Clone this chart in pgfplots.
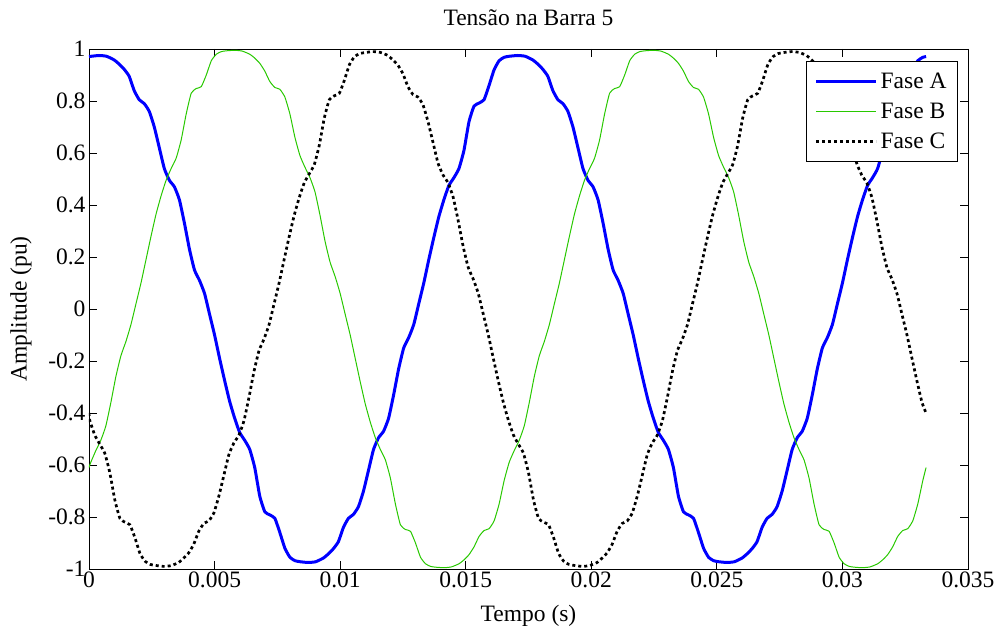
\documentclass[border=0pt]{standalone}
\usepackage{pgfplots}
\pgfplotsset{compat=1.18}
\usepackage{fontspec}
\setmainfont{Liberation Serif}
\newcommand{\fsz}{\fontsize{23.5bp}{28bp}\selectfont}
\definecolor{fgreen}{RGB}{40,200,0}
\begin{document}
\begin{tikzpicture}
\useasboundingbox (-89bp,-62bp) rectangle (910bp,569bp);
\begin{axis}[
  at={(0,0)}, anchor=south west,
  scale only axis, width=879bp, height=520bp,
  xmin=0, xmax=0.035, ymin=-1, ymax=1,
  scaled x ticks=false, scaled y ticks=false,
  xtick={0,0.005,0.01,0.015,0.02,0.025,0.03,0.035},
  xticklabels={0,0.005,0.01,0.015,0.02,0.025,0.03,0.035},
  ytick={-1,-0.8,-0.6,-0.4,-0.2,0,0.2,0.4,0.6,0.8,1},
  yticklabels={-1,-0.8,-0.6,-0.4,-0.2,0,0.2,0.4,0.6,0.8,1},
  tick align=inside, xtick pos=both, ytick pos=both,
  major tick length=8bp,
  tick style={black, line width=0.8bp},
  axis line style={black, line width=0.8bp},
  xticklabel style={font=\fsz, anchor=base, yshift=-18bp},
  yticklabel style={font=\fsz},
  title={Tensão na Barra 5},
  title style={font=\fsz, at={(axis description cs:0.5,1.0333)}, anchor=base},
  xlabel={Tempo (s)},
  xlabel style={font=\fsz, at={(axis description cs:0.5,-0.1013)}, anchor=base},
  ylabel={Amplitude (pu)},
  ylabel style={font=\fsz, at={(axis description cs:-0.0709,0.5)}, anchor=base},
  legend style={at={(axis description cs:0.9886,0.9769)}, anchor=north east,
    draw=black, line width=0.8bp, fill=white, font=\fsz,
    inner xsep=8bp, inner ysep=5bp, row sep=0bp,
    nodes={inner xsep=3bp, inner ysep=6.5bp}},
  legend cell align=left,
  legend image code/.code={\draw[#1] (0bp,0bp) -- (60bp,0bp);},
]
\addplot[blue, line width=3bp, line join=round, smooth, tension=0.3] table {
0 0.971
0.0004 0.975
0.0007 0.972
0.0010 0.958
0.0012 0.942
0.0014 0.922
0.0016 0.895
0.0018 0.840
0.0020 0.805
0.0022 0.790
0.0024 0.760
0.0026 0.700
0.0028 0.620
0.0030 0.540
0.0032 0.495
0.0034 0.470
0.0036 0.420
0.0038 0.330
0.0040 0.230
0.0042 0.150
0.0044 0.110
0.0046 0.060
0.0048 -0.020
0.0050 -0.100
0.0052 -0.190
0.0054 -0.275
0.0056 -0.355
0.0058 -0.420
0.0060 -0.475
0.0062 -0.505
0.0064 -0.540
0.0066 -0.610
0.0068 -0.720
0.0070 -0.780
0.0072 -0.792
0.0074 -0.805
0.0076 -0.860
0.0078 -0.920
0.0080 -0.955
0.0082 -0.968
0.0084 -0.972
0.00873 -0.975
0.00903 -0.972
0.00933 -0.958
0.00953 -0.942
0.00973 -0.922
0.00993 -0.895
0.01013 -0.840
0.01033 -0.805
0.01053 -0.790
0.01073 -0.760
0.01093 -0.700
0.01113 -0.620
0.01133 -0.540
0.01153 -0.495
0.01173 -0.470
0.01193 -0.420
0.01213 -0.330
0.01233 -0.230
0.01253 -0.150
0.01273 -0.110
0.01293 -0.060
0.01313 0.020
0.01333 0.100
0.01353 0.190
0.01373 0.275
0.01393 0.355
0.01413 0.420
0.01433 0.475
0.01453 0.505
0.01473 0.540
0.01493 0.610
0.01513 0.720
0.01533 0.780
0.01553 0.792
0.01573 0.805
0.01593 0.860
0.01613 0.920
0.01633 0.955
0.01653 0.968
0.01673 0.972
0.01707 0.975
0.01737 0.972
0.01767 0.958
0.01787 0.942
0.01807 0.922
0.01827 0.895
0.01847 0.840
0.01867 0.805
0.01887 0.790
0.01907 0.760
0.01927 0.700
0.01947 0.620
0.01967 0.540
0.01987 0.495
0.02007 0.470
0.02027 0.420
0.02047 0.330
0.02067 0.230
0.02087 0.150
0.02107 0.110
0.02127 0.060
0.02147 -0.020
0.02167 -0.100
0.02187 -0.190
0.02207 -0.275
0.02227 -0.355
0.02247 -0.420
0.02267 -0.475
0.02287 -0.505
0.02307 -0.540
0.02327 -0.610
0.02347 -0.720
0.02367 -0.780
0.02387 -0.792
0.02407 -0.805
0.02427 -0.860
0.02447 -0.920
0.02467 -0.955
0.02487 -0.968
0.02507 -0.972
0.02540 -0.975
0.02570 -0.972
0.02600 -0.958
0.02620 -0.942
0.02640 -0.922
0.02660 -0.895
0.02680 -0.840
0.02700 -0.805
0.02720 -0.790
0.02740 -0.760
0.02760 -0.700
0.02780 -0.620
0.02800 -0.540
0.02820 -0.495
0.02840 -0.470
0.02860 -0.420
0.02880 -0.330
0.02900 -0.230
0.02920 -0.150
0.02940 -0.110
0.02960 -0.060
0.02980 0.020
0.03000 0.100
0.03020 0.190
0.03040 0.275
0.03060 0.355
0.03080 0.420
0.03100 0.475
0.03120 0.505
0.03140 0.540
0.03160 0.610
0.03180 0.720
0.03200 0.780
0.03220 0.792
0.03240 0.805
0.03260 0.860
0.03280 0.920
0.03300 0.955
0.03320 0.968
0.03333 0.971
};
\addlegendentry{Fase A}
\addplot[fgreen, line width=1bp, line join=round, smooth, tension=0.3] table {
0 -0.610
0.00007 -0.590
0.00027 -0.545
0.00047 -0.505
0.00067 -0.450
0.00087 -0.360
0.00107 -0.260
0.00127 -0.180
0.00147 -0.125
0.00167 -0.060
0.00187 0.020
0.00207 0.100
0.00227 0.190
0.00247 0.280
0.00267 0.365
0.00287 0.435
0.00307 0.495
0.00327 0.540
0.00347 0.580
0.00367 0.650
0.00387 0.750
0.00407 0.830
0.00427 0.848
0.00447 0.855
0.00467 0.900
0.00487 0.955
0.00507 0.980
0.00527 0.990
0.00547 0.993
0.00580 0.995
0.00610 0.992
0.00640 0.980
0.00660 0.965
0.00680 0.945
0.00700 0.915
0.00720 0.875
0.00740 0.852
0.00760 0.845
0.00780 0.815
0.00800 0.750
0.00820 0.660
0.00840 0.590
0.00860 0.545
0.00880 0.505
0.00900 0.450
0.00920 0.360
0.00940 0.260
0.00960 0.180
0.00980 0.125
0.01000 0.060
0.01020 -0.020
0.01040 -0.100
0.01060 -0.190
0.01080 -0.280
0.01100 -0.365
0.01120 -0.435
0.01140 -0.495
0.01160 -0.540
0.01180 -0.580
0.01200 -0.650
0.01220 -0.750
0.01240 -0.830
0.01260 -0.848
0.01280 -0.855
0.01300 -0.900
0.01320 -0.955
0.01340 -0.980
0.01360 -0.990
0.01380 -0.993
0.01413 -0.995
0.01443 -0.992
0.01473 -0.980
0.01493 -0.965
0.01513 -0.945
0.01533 -0.915
0.01553 -0.875
0.01573 -0.852
0.01593 -0.845
0.01613 -0.815
0.01633 -0.750
0.01653 -0.660
0.01673 -0.590
0.01693 -0.545
0.01713 -0.505
0.01733 -0.450
0.01753 -0.360
0.01773 -0.260
0.01793 -0.180
0.01813 -0.125
0.01833 -0.060
0.01853 0.020
0.01873 0.100
0.01893 0.190
0.01913 0.280
0.01933 0.365
0.01953 0.435
0.01973 0.495
0.01993 0.540
0.02013 0.580
0.02033 0.650
0.02053 0.750
0.02073 0.830
0.02093 0.848
0.02113 0.855
0.02133 0.900
0.02153 0.955
0.02173 0.980
0.02193 0.990
0.02213 0.993
0.02247 0.995
0.02277 0.992
0.02307 0.980
0.02327 0.965
0.02347 0.945
0.02367 0.915
0.02387 0.875
0.02407 0.852
0.02427 0.845
0.02447 0.815
0.02467 0.750
0.02487 0.660
0.02507 0.590
0.02527 0.545
0.02547 0.505
0.02567 0.450
0.02587 0.360
0.02607 0.260
0.02627 0.180
0.02647 0.125
0.02667 0.060
0.02687 -0.020
0.02707 -0.100
0.02727 -0.190
0.02747 -0.280
0.02767 -0.365
0.02787 -0.435
0.02807 -0.495
0.02827 -0.540
0.02847 -0.580
0.02867 -0.650
0.02887 -0.750
0.02907 -0.830
0.02927 -0.848
0.02947 -0.855
0.02967 -0.900
0.02987 -0.955
0.03007 -0.980
0.03027 -0.990
0.03047 -0.993
0.03080 -0.995
0.03110 -0.992
0.03140 -0.980
0.03160 -0.965
0.03180 -0.945
0.03200 -0.915
0.03220 -0.875
0.03240 -0.852
0.03260 -0.845
0.03280 -0.815
0.03300 -0.750
0.03320 -0.660
0.03333 -0.610
};
\addlegendentry{Fase B}
\addplot[black, line width=2.7bp, dash pattern=on 3bp off 3bp, smooth, tension=0.3] table {
0 -0.400
0.00003 -0.428
0.00023 -0.485
0.00043 -0.520
0.00063 -0.555
0.00083 -0.630
0.00103 -0.735
0.00123 -0.805
0.00143 -0.820
0.00163 -0.830
0.00183 -0.880
0.00203 -0.940
0.00223 -0.970
0.00243 -0.982
0.00263 -0.986
0.00297 -0.990
0.00327 -0.987
0.00357 -0.975
0.00377 -0.958
0.00397 -0.938
0.00417 -0.905
0.00437 -0.855
0.00457 -0.825
0.00477 -0.815
0.00497 -0.785
0.00517 -0.720
0.00537 -0.640
0.00557 -0.560
0.00577 -0.515
0.00597 -0.485
0.00617 -0.430
0.00637 -0.340
0.00657 -0.240
0.00677 -0.160
0.00697 -0.115
0.00717 -0.060
0.00737 0.020
0.00757 0.100
0.00777 0.190
0.00797 0.278
0.00817 0.360
0.00837 0.428
0.00857 0.485
0.00877 0.520
0.00897 0.555
0.00917 0.630
0.00937 0.735
0.00957 0.805
0.00977 0.820
0.00997 0.830
0.01017 0.880
0.01037 0.940
0.01057 0.970
0.01077 0.982
0.01097 0.986
0.01130 0.990
0.01160 0.987
0.01190 0.975
0.01210 0.958
0.01230 0.938
0.01250 0.905
0.01270 0.855
0.01290 0.825
0.01310 0.815
0.01330 0.785
0.01350 0.720
0.01370 0.640
0.01390 0.560
0.01410 0.515
0.01430 0.485
0.01450 0.430
0.01470 0.340
0.01490 0.240
0.01510 0.160
0.01530 0.115
0.01550 0.060
0.01570 -0.020
0.01590 -0.100
0.01610 -0.190
0.01630 -0.278
0.01650 -0.360
0.01670 -0.428
0.01690 -0.485
0.01710 -0.520
0.01730 -0.555
0.01750 -0.630
0.01770 -0.735
0.01790 -0.805
0.01810 -0.820
0.01830 -0.830
0.01850 -0.880
0.01870 -0.940
0.01890 -0.970
0.01910 -0.982
0.01930 -0.986
0.01963 -0.990
0.01993 -0.987
0.02023 -0.975
0.02043 -0.958
0.02063 -0.938
0.02083 -0.905
0.02103 -0.855
0.02123 -0.825
0.02143 -0.815
0.02163 -0.785
0.02183 -0.720
0.02203 -0.640
0.02223 -0.560
0.02243 -0.515
0.02263 -0.485
0.02283 -0.430
0.02303 -0.340
0.02323 -0.240
0.02343 -0.160
0.02363 -0.115
0.02383 -0.060
0.02403 0.020
0.02423 0.100
0.02443 0.190
0.02463 0.278
0.02483 0.360
0.02503 0.428
0.02523 0.485
0.02543 0.520
0.02563 0.555
0.02583 0.630
0.02603 0.735
0.02623 0.805
0.02643 0.820
0.02663 0.830
0.02683 0.880
0.02703 0.940
0.02723 0.970
0.02743 0.982
0.02763 0.986
0.02797 0.990
0.02827 0.987
0.02857 0.975
0.02877 0.958
0.02897 0.938
0.02917 0.905
0.02937 0.855
0.02957 0.825
0.02977 0.815
0.02997 0.785
0.03017 0.720
0.03037 0.640
0.03057 0.560
0.03077 0.515
0.03097 0.485
0.03117 0.430
0.03137 0.340
0.03157 0.240
0.03177 0.160
0.03197 0.115
0.03217 0.060
0.03237 -0.020
0.03257 -0.100
0.03277 -0.190
0.03297 -0.278
0.03317 -0.360
0.03333 -0.400
};
\addlegendentry{Fase C}
\end{axis}
\end{tikzpicture}
\end{document}
